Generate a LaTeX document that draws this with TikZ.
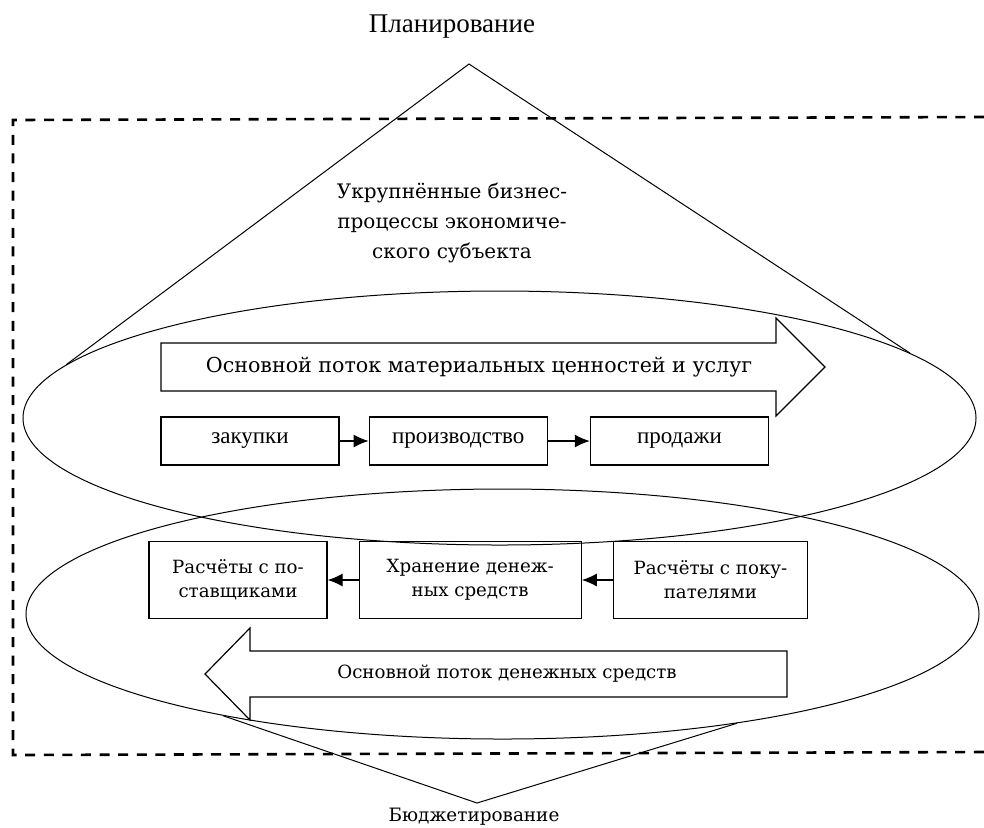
\documentclass[tikz,border=0pt]{standalone}
\usepackage{fontspec}
\setmainfont{Liberation Serif}
\newfontfamily\cambfont{DejaVu Serif}
\usetikzlibrary{shapes.geometric, positioning, arrows.meta}

\begin{document}
\begin{tikzpicture}[
    x = 0.5pt, y = -0.5pt,
    > = {Latex[length = 7.5pt, width = 6.5pt]},
    oval/.style = {
      ellipse, draw, line width = 0.5pt, inner sep = 0pt,
      minimum width = 476.5pt
    },
    upperbox/.style = {
      rectangle, draw, line width = 0.6pt, inner sep = 2pt,
      minimum width = 89pt, minimum height = 24pt,
      font = \fontsize{11.5}{13}\selectfont
    },
    lowerbox/.style = {
      rectangle, draw, line width = 0.6pt, inner sep = 2pt, align = center,
      minimum height = 38.5pt,
      font = \cambfont\fontsize{9.1}{12}\selectfont
    },
    edge/.style = {line width = 0.5pt},
    link/.style = {->, line width = 0.6pt},
    flow/.style = {draw, line width = 0.6pt, line join = miter},
    frame/.style = {line width = 1.3pt, dash pattern = on 5pt off 4.3pt},
    label/.style = {inner sep = 0pt, font = \cambfont\fontsize{#1}{15}\selectfont},
  ]
    \useasboundingbox (0,0) rectangle (984,827);

    % draw ovals
    \node  [oval, minimum height = 127pt]  (upper)  at (499.5,418)  {};
    \node  [oval, minimum height = 125pt]  (lower)  at (502.5,614)  {};

    % draw frame
    \draw  [frame]  (984,117) -- (13,120) -- (13,755) -- (984,752);

    % draw triangles
    \coordinate  (apex)  at (469,64);
    \coordinate  (bapex)  at (477,803);
    \draw  [edge]  (upper.173) -- (apex) -- (upper.9);
    \draw  [edge]  (lower.200) -- (bapex) -- (lower.335);

    % draw labels
    \node  [inner sep = 0pt, font = \fontsize{13.5}{16}\selectfont]  (plan)  at (452,27)  {Планирование};
    \node  [label = 10, align = center]  (biz)  at (452,223)
      {Укрупнённые бизнес-\\процессы экономиче-\\ского субъекта};
    \node  [label = 9.2]  (budget)  at (474,817)  {Бюджетирование};

    % draw material flow
    \draw  [flow]  (161,343) -- (776,343) -- (776,318) -- (825,367)
      -- (776,416) -- (776,391) -- (161,391) -- cycle;
    \node  [label = 10.3]  (matflow)  at (479,367)
      {Основной поток материальных ценностей и услуг};

    \node  [upperbox]  (zak)  at (250,441)  {закупки};
    \node  [upperbox]  (proizv)  [right = 14.5pt of zak]  {производство};
    \node  [upperbox]  (prod)  [right = 21pt of proizv]  {продажи};
    \draw  [link]  (zak) -- (proizv);
    \draw  [link]  (proizv) -- (prod);

    % draw money flow
    \node  [lowerbox, minimum width = 89pt]  (post)  at (238,580)
      {Расчёты с по-\\ставщиками};
    \node  [lowerbox, minimum width = 111pt]  (khran)  [right = 15.5pt of post]
      {Хранение денеж-\\ных средств};
    \node  [lowerbox, minimum width = 97pt]  (pokup)  [right = 15.5pt of khran]
      {Расчёты с поку-\\пателями};
    \draw  [link]  (khran) -- (post);
    \draw  [link]  (pokup) -- (khran);

    \draw  [flow]  (787,651) -- (250,651) -- (250,628) -- (205,674)
      -- (250,720) -- (250,697) -- (787,697) -- cycle;
    \node  [label = 9.1]  (money)  at (507,674)  {Основной поток денежных средств};
\end{tikzpicture}
\end{document}
